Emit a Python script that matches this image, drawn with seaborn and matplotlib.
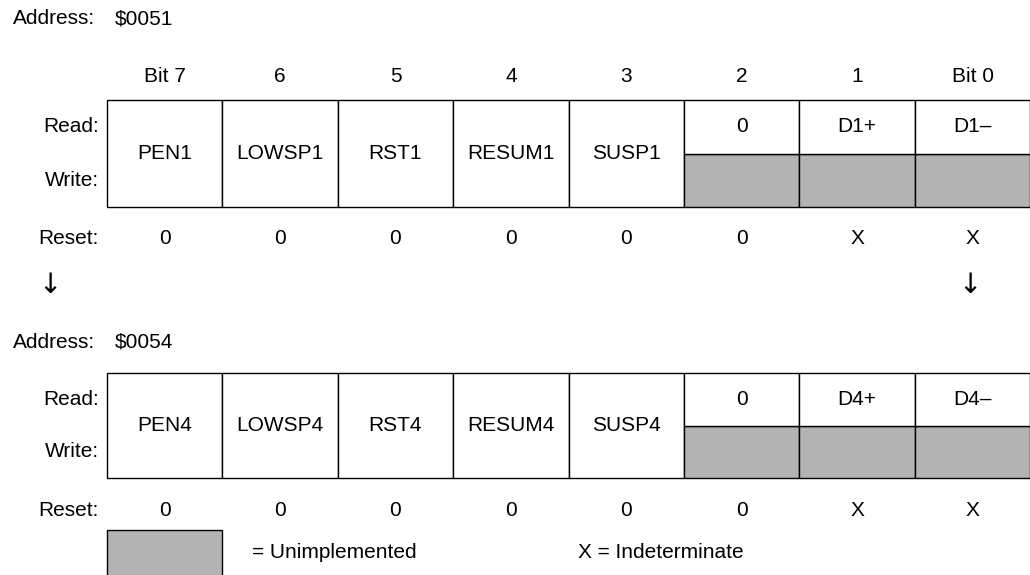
import matplotlib
matplotlib.use("Agg")
import matplotlib.pyplot as plt
from matplotlib.patches import Rectangle
import seaborn as sns

bit_labels = ["Bit 7", "6", "5", "4", "3", "2", "1", "Bit 0"]
reg1_addr = "$0051"
reg1_fields = ["PEN1", "LOWSP1", "RST1", "RESUM1", "SUSP1", "0", "D1+", "D1\u2013"]
reg1_reset = ["0", "0", "0", "0", "0", "0", "X", "X"]
reg2_addr = "$0054"
reg2_fields = ["PEN4", "LOWSP4", "RST4", "RESUM4", "SUSP4", "0", "D4+", "D4\u2013"]
reg2_reset = ["0", "0", "0", "0", "0", "0", "X", "X"]
# bits where the write half is unimplemented (read-only)
read_only = [False, False, False, False, False, True, True, True]

GREY = "#b3b3b3"
FS = 15
TXT = dict(fontsize=FS, color="black", va="center")


def draw_register(ax, top, bottom, fields, reset, reset_y):
    x0, w = 107, 115.4
    mid = (top + bottom) / 2
    for i, name in enumerate(fields):
        x = x0 + i * w
        if read_only[i]:
            ax.add_patch(Rectangle((x, mid), w, bottom - mid, facecolor=GREY,
                                   edgecolor="black", lw=1))
            ax.add_patch(Rectangle((x, top), w, mid - top, facecolor="white",
                                   edgecolor="black", lw=1))
            ax.text(x + w / 2, (top + mid) / 2, name, ha="center", **TXT)
        else:
            ax.add_patch(Rectangle((x, top), w, bottom - top, facecolor="white",
                                   edgecolor="black", lw=1))
            ax.text(x + w / 2, mid, name, ha="center", **TXT)
        ax.text(x + w / 2, reset_y, reset[i], ha="center", **TXT)
    ax.text(99, (top + mid) / 2, "Read:", ha="right", **TXT)
    ax.text(99, (mid + bottom) / 2, "Write:", ha="right", **TXT)
    ax.text(99, reset_y, "Reset:", ha="right", **TXT)


sns.set_theme(style="white")
plt.rcParams["font.family"] = ["Liberation Sans", "DejaVu Sans"]

fig = plt.figure(figsize=(10.3, 5.75), dpi=100)
ax = fig.add_axes([0, 0, 1, 1])
ax.set_xlim(0, 1030)
ax.set_ylim(575, 0)
ax.axis("off")

# register 1
ax.text(13, 19, "Address:", ha="left", **TXT)
ax.text(115, 19, reg1_addr, ha="left", **TXT)
for i, b in enumerate(bit_labels):
    ax.text(107 + 115.4 * i + 57.7, 77, b, ha="center", **TXT)
draw_register(ax, 100, 207, reg1_fields, reg1_reset, 239)

# arrows
ax.text(50, 285, "\u2193", ha="center", va="center", fontsize=20, color="black",
        family=["DejaVu Sans"])
ax.text(970, 285, "\u2193", ha="center", va="center", fontsize=20, color="black",
        family=["DejaVu Sans"])

# register 2
ax.text(13, 342, "Address:", ha="left", **TXT)
ax.text(115, 342, reg2_addr, ha="left", **TXT)
draw_register(ax, 373, 478, reg2_fields, reg2_reset, 510)

# legend
ax.add_patch(Rectangle((107, 530), 115.4, 50, facecolor=GREY, edgecolor="black", lw=1))
ax.text(252, 552, "= Unimplemented", ha="left", **TXT)
ax.text(578, 552, "X = Indeterminate", ha="left", **TXT)

fig.savefig("out.png", dpi=100)
